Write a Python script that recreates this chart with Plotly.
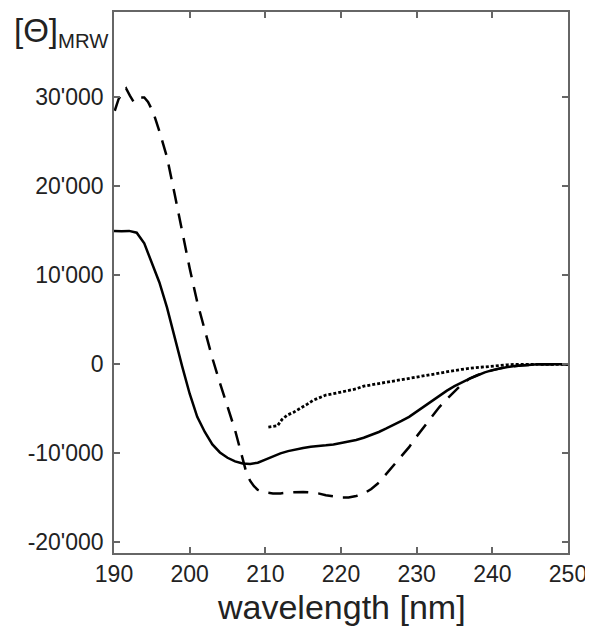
import plotly.graph_objects as go

# Solid curve
wl_solid = [190, 191, 192, 193, 194, 195, 196, 197, 198, 199, 200, 201, 202, 203, 204, 205,
            206, 207, 208, 209, 210, 211, 212, 213, 214, 215, 216, 217, 218, 219, 220, 221,
            222, 223, 224, 225, 226, 227, 228, 229, 230, 231, 232, 233, 234, 235, 236, 237,
            238, 239, 240, 241, 242, 243, 244, 245, 246, 247, 248, 249, 250]
th_solid = [15000, 14950, 15000, 14800, 13600, 11500, 9200, 6400, 3000, -200, -3300, -5900,
            -7600, -9000, -9900, -10500, -10900, -11150, -11200, -11050, -10700, -10350,
            -10000, -9750, -9550, -9400, -9250, -9200, -9100, -9000, -8850, -8700, -8500,
            -8250, -7950, -7600, -7200, -6800, -6350, -5900, -5300, -4700, -4100, -3500,
            -2950, -2450, -2000, -1600, -1250, -900, -650, -450, -300, -180, -100, -50,
            0, 0, 0, 0, 0]

# Dashed curve
wl_dash = [190.1, 190.6, 191.2, 191.6, 192.1, 192.6, 193.2, 194.0, 194.5, 195.2, 196.0, 197.0,
           198.0, 199.0, 200.0, 201.0, 202.0, 203.0, 204.0, 205.0, 206.0, 207.0, 207.5, 208.0,
           208.5, 209.0, 210.0, 211.0, 212.0, 213.0, 214.0, 215.0, 216.0, 217.0, 218.0, 219.0,
           220.0, 221.0, 222.0, 223.0, 224.0, 225.0, 226.0, 227.0, 228.0, 229.0, 230.0, 231.0,
           232.0, 233.0, 234.0, 235.0, 236.0, 237.0, 238.0, 239.0, 240.0, 241.0, 242.0, 243.0,
           244.0, 245.0, 246.0, 248.0, 250.0]
th_dash = [28500, 29800, 30600, 31000, 30200, 29500, 30000, 30000, 29500, 28300, 26200, 23300,
           19200, 14800, 10800, 7000, 3700, 700, -2100, -4700, -7400, -10600, -12200, -13100,
           -13700, -14100, -14400, -14500, -14500, -14400, -14350, -14350, -14400, -14500,
           -14700, -14850, -14950, -14950, -14800, -14550, -14000, -13300, -12300, -11400,
           -10400, -9300, -8100, -7000, -5800, -4800, -3900, -3000, -2200, -1600, -1200,
           -900, -650, -450, -300, -180, -100, -50, 0, 0, 0]

# Dotted curve
wl_dot = [210.4, 211.0, 211.6, 212.2, 212.9, 213.7, 214.6, 215.5, 216.3, 217.2, 218.0, 219.0,
          220.0, 221.0, 222.0, 223.0, 224.0, 225.0, 226.0, 227.0, 228.0, 229.0, 230.0, 231.0,
          232.0, 233.0, 234.0, 235.0, 236.0, 237.0, 238.0, 239.0, 240.0, 241.0, 242.0, 243.0,
          245.0, 247.0, 250.0]
th_dot = [-7050, -7000, -6900, -6200, -5700, -5400, -4980, -4500, -4050, -3700, -3450, -3300,
          -3100, -2950, -2750, -2450, -2300, -2200, -2000, -1850, -1700, -1550, -1420, -1250,
          -1100, -920, -780, -650, -550, -440, -350, -260, -180, -110, -50, 0, 0, 0, 0]

x_ticks = [190, 200, 210, 220, 230, 240, 250]
y_ticks = [30000, 20000, 10000, 0, -10000, -20000]
y_ticktext = ["30'000", "20'000", "10'000", "0", "-10'000", "-20'000"]

fig = go.Figure()
fig.add_trace(go.Scatter(x=wl_solid, y=th_solid, mode="lines",
                         line=dict(color="black", width=2.5), showlegend=False))
fig.add_trace(go.Scatter(x=wl_dash, y=th_dash, mode="lines",
                         line=dict(color="black", width=2.5, dash="15px,10px"), showlegend=False))
fig.add_trace(go.Scatter(x=wl_dot, y=th_dot, mode="lines",
                         line=dict(color="black", width=2.8, dash="3px,2px"), showlegend=False))

axis_color = "#666666"
text_color = "#222222"
fig.update_layout(
    width=585, height=622,
    margin=dict(l=106, r=25, t=2, b=77),
    paper_bgcolor="white", plot_bgcolor="white",
    font=dict(family="Liberation Sans, Arial, sans-serif", color=text_color, size=23),
    xaxis=dict(range=[190, 250], tickvals=x_ticks, ticks="inside", ticklen=6,
               tickcolor=axis_color, tickwidth=1.5, showline=True, linecolor=axis_color,
               linewidth=1.5, mirror="ticks", showgrid=False, zeroline=False,
               tickfont=dict(size=23)),
    yaxis=dict(range=[-21200, 39600], tickvals=y_ticks, ticktext=y_ticktext, ticks="inside",
               ticklen=6, tickcolor=axis_color, tickwidth=1.5, showline=True,
               linecolor=axis_color, linewidth=1.5, mirror="ticks", showgrid=False,
               zeroline=False, tickfont=dict(size=23), ticklabelstandoff=4),
)
fig.add_annotation(text="<span style='font-size:33px'>[Θ]</span><sub>MRW</sub>",
                   xref="paper", yref="paper",
                   x=-0.225, y=1.004, xanchor="left", yanchor="top", showarrow=False,
                   font=dict(size=29, color=text_color))
fig.add_annotation(text="wavelength [nm]", xref="paper", yref="paper",
                   x=0.5, y=-0.061, xanchor="center", yanchor="top", showarrow=False,
                   font=dict(size=34, color=text_color))

fig.write_html("out.html")
